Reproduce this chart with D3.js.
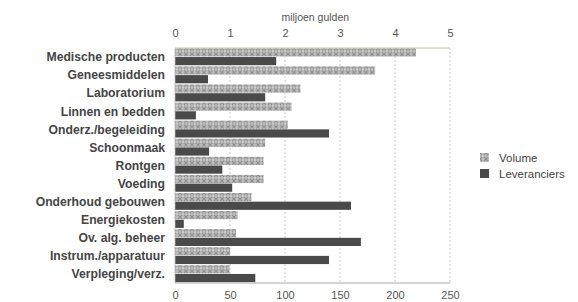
<!DOCTYPE html>
<html>
<head>
<meta charset="utf-8">
<script src="https://cdn.jsdelivr.net/npm/d3@7"></script>
<style>
  body { margin: 0; background: #fff; }
  svg { display: block; }
</style>
</head>
<body>
<div id="chart"></div>
<script>
'use strict';
// categories from top to bottom
var categories = ["Medische producten", "Geneesmiddelen", "Laboratorium", "Linnen en bedden",
  "Onderz./begeleiding", "Schoonmaak", "Rontgen", "Voeding", "Onderhoud gebouwen",
  "Energiekosten", "Ov. alg. beheer", "Instrum./apparatuur", "Verpleging/verz."];
// volume in miljoen gulden (top axis)
var volume = [4.38, 3.64, 2.28, 2.12, 2.05, 1.64, 1.61, 1.61, 1.39, 1.14, 1.11, 1.0, 0.99];
// number of suppliers (bottom axis)
var leveranciers = [92, 30, 82, 19, 140, 31, 43, 52, 160, 8, 169, 140, 73];
var topTicks = [0, 1, 2, 3, 4, 5];
var bottomTicks = [0, 50, 100, 150, 200, 250];
var seriesNames = ["Volume", "Leveranciers"];

var width = 578, height = 302;
var plotLeft = 175, plotRight = 450, plotTop = 48, plotBottom = 283;

var svg = d3.select("#chart").append("svg")
  .attr("width", width)
  .attr("height", height)
  .style("font-family", "Liberation Sans, Arial, sans-serif");

// hatch pattern for volume bars
var defs = svg.append("defs");
var pat = defs.append("pattern")
  .attr("id", "hatch")
  .attr("patternUnits", "userSpaceOnUse")
  .attr("width", 6).attr("height", 6);
pat.append("rect").attr("width", 6).attr("height", 6).attr("fill", "#bdbdbd");
pat.append("path").attr("d", "M0,0L6,6M6,0L0,6").attr("stroke", "#8c8c8c").attr("stroke-width", 1.1);
pat.append("circle").attr("cx", 3).attr("cy", 3).attr("r", 1.1).attr("fill", "#dcdcdc");

var xTop = d3.scaleLinear().domain([0, 5]).range([plotLeft, plotRight]);
var xBot = d3.scaleLinear().domain([0, 250]).range([plotLeft, plotRight]);
var y = d3.scaleBand().domain(categories).range([plotTop, plotBottom]).paddingInner(0.04).paddingOuter(0.02);

// gridlines
svg.append("g").selectAll("line")
  .data(topTicks.slice(1))
  .enter().append("line")
  .attr("x1", function(d){ return xTop(d); })
  .attr("x2", function(d){ return xTop(d); })
  .attr("y1", plotTop).attr("y2", plotBottom)
  .attr("stroke", "#bbb")
  .attr("stroke-width", 0.8)
  .attr("stroke-dasharray", "2,2");

// bars
var rows = svg.append("g").selectAll("g")
  .data(categories)
  .enter().append("g")
  .attr("transform", function(d){ return "translate(0," + y(d) + ")"; });

var bh = y.bandwidth() / 2;

rows.append("rect")
  .attr("x", plotLeft)
  .attr("y", 0)
  .attr("height", bh - 0.5)
  .attr("width", function(d, i){ return xTop(volume[i]) - plotLeft; })
  .attr("fill", "url(#hatch)");

rows.append("rect")
  .attr("x", plotLeft)
  .attr("y", bh)
  .attr("height", bh - 0.5)
  .attr("width", function(d, i){ return xBot(leveranciers[i]) - plotLeft; })
  .attr("fill", "#4a4a4a");

// category labels
rows.append("text")
  .attr("x", plotLeft - 10)
  .attr("y", y.bandwidth() / 2)
  .attr("dy", "0.35em")
  .attr("text-anchor", "end")
  .attr("font-size", "12.2px")
  .attr("font-weight", "bold")
  .attr("fill", "#454545")
  .text(function(d){ return d; });

// axis lines
svg.append("line")
  .attr("x1", plotLeft).attr("x2", plotRight).attr("y1", plotTop).attr("y2", plotTop)
  .attr("stroke", "#c8c09a").attr("stroke-width", 1);
svg.append("line")
  .attr("x1", plotLeft).attr("x2", plotRight).attr("y1", plotBottom).attr("y2", plotBottom)
  .attr("stroke", "#aaa").attr("stroke-width", 1);
svg.append("line")
  .attr("x1", plotLeft).attr("x2", plotLeft).attr("y1", plotTop).attr("y2", plotBottom)
  .attr("stroke", "#bbb").attr("stroke-width", 0.8);

// top axis
var axTop = svg.append("g")
  .attr("transform", "translate(0," + (plotTop - 7) + ")")
  .call(d3.axisTop(xTop).tickValues(topTicks).tickSize(0).tickPadding(4).tickFormat(d3.format("d")));
axTop.select(".domain").remove();
axTop.selectAll("text").attr("font-size", "11px").attr("fill", "#555").style("font-family", "Liberation Sans, Arial, sans-serif");

// bottom axis
var axBot = svg.append("g")
  .attr("transform", "translate(0," + (plotBottom + 6) + ")")
  .call(d3.axisBottom(xBot).tickValues(bottomTicks).tickSize(0).tickPadding(2).tickFormat(d3.format("d")));
axBot.select(".domain").remove();
axBot.selectAll("text").attr("font-size", "11px").attr("fill", "#555").style("font-family", "Liberation Sans, Arial, sans-serif");

// top axis title
svg.append("text")
  .attr("x", xTop(2.55))
  .attr("y", 21)
  .attr("text-anchor", "middle")
  .attr("font-size", "10.5px")
  .attr("fill", "#555")
  .text("miljoen gulden");

// legend
var legend = svg.append("g").attr("transform", "translate(480,153)");
var items = legend.selectAll("g")
  .data(seriesNames)
  .enter().append("g")
  .attr("transform", function(d, i){ return "translate(0," + (i * 16) + ")"; });
items.append("rect")
  .attr("width", 9).attr("height", 9)
  .attr("fill", function(d, i){ return i == 0 ? "url(#hatch)" : "#4a4a4a"; });
items.append("text")
  .attr("x", 19).attr("y", 5)
  .attr("dy", "0.35em")
  .attr("font-size", "11.5px")
  .attr("fill", "#444")
  .text(function(d){ return d; });
</script>
</body>
</html>
